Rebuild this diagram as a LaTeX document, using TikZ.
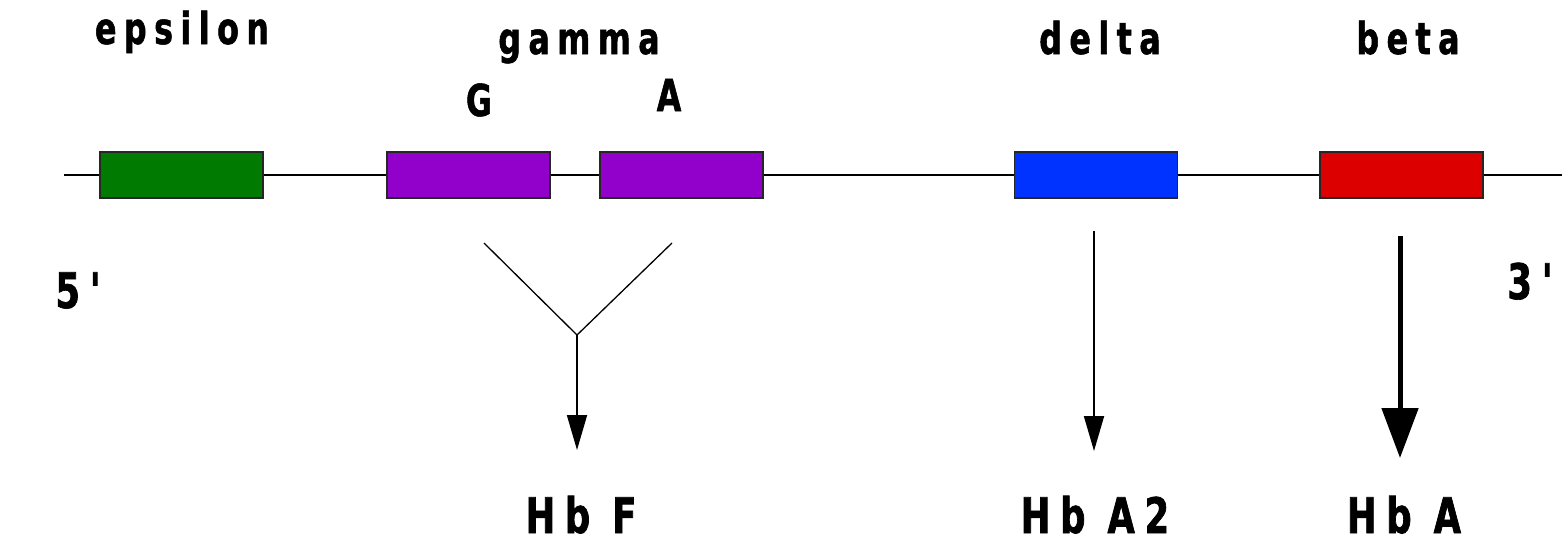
\documentclass[tikz,border=0pt]{standalone}
\usepackage{fontspec}
\usetikzlibrary{arrows.meta}
\newfontfamily\genefont{DejaVu Sans}[FakeStretch=0.72,LetterSpace=17,FakeBold=1.2]
\newfontfamily\bigfont{DejaVu Sans}[FakeStretch=0.72,LetterSpace=20,FakeBold=1.4]
\definecolor{epsgreen}{RGB}{0,122,0}
\definecolor{gampurple}{RGB}{146,0,204}
\definecolor{delblue}{RGB}{0,51,255}
\definecolor{betred}{RGB}{221,0,0}
\begin{document}
\begin{tikzpicture}[x=1pt,y=-1pt,
  genebox/.style={draw=black!85, line width=1.5pt, minimum width=163pt,
    minimum height=46pt, inner sep=0pt},
  lbl/.style={font=\genefont\bfseries\fontsize{44}{46}\selectfont,
    anchor=base, inner sep=0pt},
  biglbl/.style={font=\bigfont\bfseries\fontsize{49}{51}\selectfont,
    anchor=base, inner sep=0pt},
  thinline/.style={line width=1.3pt},
  prodarrow/.style={line width=1.8pt, -{Triangle[length=35pt,width=20pt]}},
  mainarrow/.style={line width=5pt, -{Triangle[length=50pt,width=36pt]}}]
\useasboundingbox (0,0) rectangle (1562,542);
\fill[white] (0,0) rectangle (1562,542);

% chromosome strand
\coordinate (s5) at (64,175);
\coordinate (s3) at (1562,175);
\draw[line width=2.2pt] (s5) -- (s3);

% gene boxes
\node[genebox, fill=epsgreen]   (eps)  at (181.5,175) {};
\node[genebox, fill=gampurple]  (gamG) at (468.5,175) {};
\node[genebox, fill=gampurple]  (gamA) at (681.5,175) {};
\node[genebox, fill=delblue]    (del)  at (1096,175) {};
\node[genebox, fill=betred]     (bet)  at (1401.5,175) {};

% gene names
\node[lbl] (tEps) at (182,44) {epsilon};
\node[lbl] (tGam) at (579,54) {gamma};
\node[lbl] (tG)   at (479,116) {G};
\node[lbl] (tA)   at (669,111) {A};
\node[lbl] (tDel) at (1100,54) {delta};
\node[lbl] (tBet) at (1408,54) {beta};

% strand ends
\node[biglbl] (p5) at (78,308) {5'};
\node[biglbl] (p3) at (1530,299) {3'};

% products
\node[biglbl] (hbF)  at (581,533) {Hb F};
\node[biglbl] (hbA2) at (1095,533) {Hb A2};
\node[biglbl] (hbA)  at (1404,533) {Hb A};

% gamma genes merge into Hb F
\coordinate (yl) at (484,243);
\coordinate (yr) at (672,243);
\coordinate (yj) at (577,335);
\coordinate (fTip) at (577,450);
\draw[thinline] (yl) -- (yj) -- (yr);
\draw[prodarrow] (yj) -- (fTip);

% delta to Hb A2
\coordinate (dTop) at (1094,231);
\coordinate (dTip) at (1094,451);
\draw[prodarrow] (dTop) -- (dTip);

% beta to Hb A
\coordinate (bTop) at (1400,236);
\coordinate (bTip) at (1400,458);
\draw[mainarrow] (bTop) -- (bTip);
\end{tikzpicture}
\end{document}
